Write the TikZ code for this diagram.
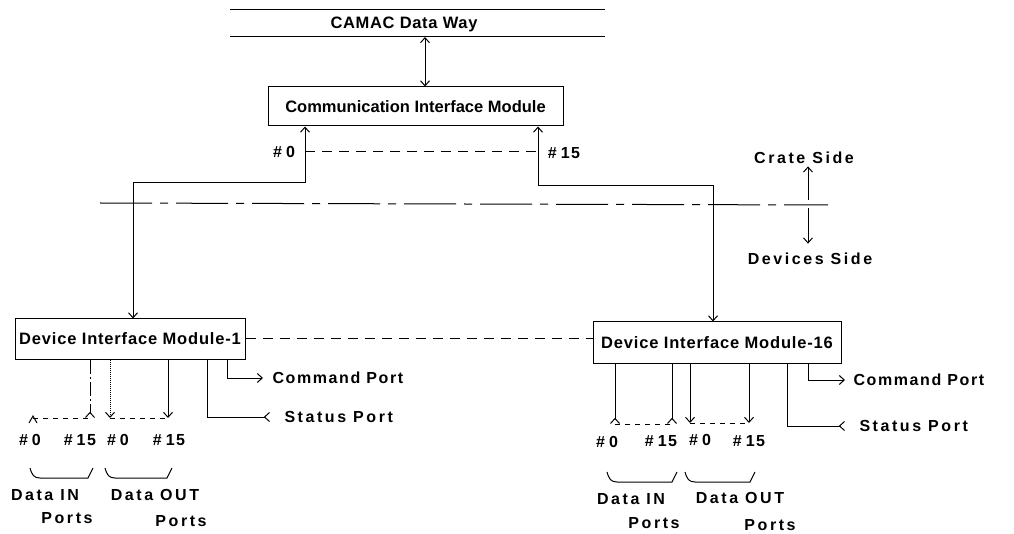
\documentclass[tikz,border=0pt]{standalone}
\usepackage{fontspec}
\setmainfont{Liberation Sans}
\newfontfamily\fA[LetterSpace=0]{Liberation Sans}
\newfontfamily\fT[LetterSpace=4]{Liberation Sans}
\newfontfamily\fD[LetterSpace=5]{Liberation Sans}
\newfontfamily\fB[LetterSpace=16]{Liberation Sans}
\newfontfamily\fC[LetterSpace=10]{Liberation Sans}
\newfontfamily\fN[LetterSpace=10]{Liberation Sans}
\usetikzlibrary{arrows.meta}
\newcommand\bigf{\fA\bfseries\fontsize{16.5}{18}\selectfont}
\newcommand\ttlf{\fT\bfseries\fontsize{16.5}{18}\selectfont}
\newcommand\dimf{\fD\bfseries\fontsize{16.5}{18}\selectfont}
\newcommand\spf{\fB\bfseries\fontsize{16}{18}\selectfont}
\newcommand\cmdf{\fC\bfseries\fontsize{16}{18}\selectfont}
\newcommand\numf{\fN\bfseries\fontsize{16}{18}\selectfont}
\newcommand\hsh{\#\kern4pt}
\tikzset{
  modbox/.style={draw, line width=1pt, inner sep=0pt, font=\bigf},
  dimbox/.style={draw, line width=1pt, inner sep=0pt, font=\dimf},
  lbl/.style={inner sep=2pt, font=\spf},
  numlbl/.style={inner sep=2pt, font=\numf},
  cmdlbl/.style={inner sep=2pt, font=\cmdf},
  ttl/.style={inner sep=2pt, font=\ttlf},
  sep/.style={line width=1pt, dash pattern=on 52pt off 8pt on 8pt off 8pt},
  brk/.style={line width=1pt},
  conn/.style={line width=1pt},
  dsh/.style={dash pattern=on 5pt off 5pt},
  ldsh/.style={dash pattern=on 10pt off 7pt},
}
\begin{document}
\begin{tikzpicture}[x=1pt,y=-1pt, line width=1pt, >={Straight Barb[length=5pt,width=9pt]}]
\useasboundingbox (0,0) rectangle (1014,534);

% CAMAC data way
\node[ttl] (camac) at (404,24) {CAMAC Data Way};
\draw (230,10) -- (605,10);
\draw (230,37) -- (605,37);
\coordinate (bus) at (425,37);

% Communication interface module
\node[modbox, minimum width=295pt, minimum height=39pt] (cim) at (415.5,106.5) {Communication Interface Module};
\draw[conn,<->] (bus) -- (bus |- cim.north);

\node[numlbl] (n0) at (284,152) {\hsh0};
\node[numlbl] (n15) at (564,153) {\hsh15};
\coordinate (c0) at (305,183);
\coordinate (d1) at (133,183);
\coordinate (c15) at (538,186);
\coordinate (d16) at (713,186);
\draw[ldsh] (305,152) -- (538,152);

% separator
\draw[sep] (100,203) -- (828,205);
\node[lbl] (crate) at (804,158) {Crate Side};
\node[lbl] (devs) at (810,259) {Devices Side};
\coordinate (sepU) at (808,200);
\coordinate (sepD) at (808,208);
\draw[conn,->] (sepU) -- (sepU |- crate.south);
\draw[conn,->,shorten >=7pt] (sepD) -- (sepD |- devs.north);

% device interface modules
\node[dimbox, minimum width=230pt, minimum height=40pt] (dim1) at (130,339) {Device Interface Module-1};
\node[dimbox, minimum width=248pt, minimum height=41pt] (dim16) at (717,342.5) {Device Interface Module-16};
\draw[ldsh] (dim1.east) -- (dim1.east -| dim16.west);

\draw[conn,<->] (cim.south -| c0) -- (c0) -- (d1) -- (d1 |- dim1.north);
\draw[conn,<->] (cim.south -| c15) -- (c15) -- (d16) -- (d16 |- dim16.north);

% DIM-1 ports
\coordinate (i1a) at (33,418);
\coordinate (i1b) at (90,418);
\coordinate (o1a) at (110,418);
\coordinate (o1b) at (168,418);
\draw (29,423) -- (33,416) -- (37,423);
\draw[conn,-<, dash pattern=on 14pt off 3pt on 2pt off 3pt] (dim1.south -| i1b) -- (i1b);
\draw[conn,->, densely dotted] (dim1.south -| o1a) -- (o1a);
\draw[conn,->] (dim1.south -| o1b) -- (o1b);
\draw[dsh] (i1a) -- (i1b);
\draw[dsh] (o1a) -- (o1b);

\node[cmdlbl, anchor=west] (cmd1) at (270,378) {Command Port};
\node[lbl, anchor=west] (st1) at (282,417) {Status Port};
\draw[conn,->, shorten >=7pt] (dim1.south -| 227,0) |- (cmd1.west);
\draw[conn,-<, shorten >=12pt] (dim1.south -| 207,0) |- (st1.west);

\node[numlbl] (a1) at (30,440) {\hsh0};
\node[numlbl] (a2) at (80,440) {\hsh15};
\node[numlbl] (a3) at (118,440) {\hsh0};
\node[numlbl] (a4) at (169,440) {\hsh15};
\draw[brk] (30,468) .. controls (32,475) and (34,478) .. (40,478) -- (88,478) -- (93,468);
\draw[brk] (105,468) .. controls (107,475) and (109,478) .. (115,478) -- (167,478) -- (172,468);
\node[lbl] (din1) at (45,495) {Data IN};
\node[lbl] (pin1) at (67,518) {Ports};
\node[lbl] (dout1) at (155,495) {Data OUT};
\node[lbl] (pout1) at (181,521) {Ports};

% DIM-16 ports
\coordinate (i2a) at (615,424);
\coordinate (i2b) at (672,424);
\coordinate (o2a) at (690,423);
\coordinate (o2b) at (749,423);
\draw[conn,-<] (dim16.south -| i2a) -- (i2a);
\draw[conn,-<] (dim16.south -| i2b) -- (i2b);
\draw[conn,->] (dim16.south -| o2a) -- (o2a);
\draw[conn,->] (dim16.south -| o2b) -- (o2b);
\draw[dsh] (i2a) -- (i2b);
\draw[dsh] (o2a) -- (o2b);

\node[cmdlbl, anchor=west] (cmd2) at (851,380) {Command Port};
\node[lbl, anchor=west] (st2) at (857,426) {Status Port};
\draw[conn,->, shorten >=6pt] (dim16.south -| 808,0) |- (cmd2.west);
\draw[conn,-<, shorten >=12pt] (dim16.south -| 787,0) |- (st2.west);

\node[numlbl] (b1) at (607,442) {\hsh0};
\node[numlbl] (b2) at (661,441) {\hsh15};
\node[numlbl] (b3) at (700,440) {\hsh0};
\node[numlbl] (b4) at (749,441) {\hsh15};
\draw[brk] (607,472) .. controls (609,479) and (611,482) .. (617,482) -- (672,482) -- (677,472);
\draw[brk] (685,472) .. controls (687,479) and (689,482) .. (695,482) -- (750,482) -- (755,472);
\node[lbl] (din2) at (631,499) {Data IN};
\node[lbl] (pin2) at (654,523) {Ports};
\node[lbl] (dout2) at (740,498) {Data OUT};
\node[lbl] (pout2) at (770,525) {Ports};
\end{tikzpicture}
\end{document}
